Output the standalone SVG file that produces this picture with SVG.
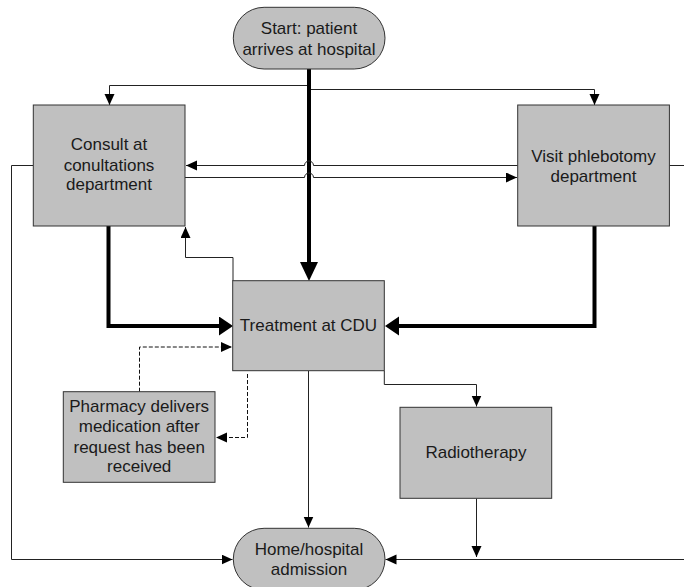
<svg xmlns="http://www.w3.org/2000/svg" width="684" height="587" viewBox="0 0 684 587">
<style>
.box{fill:#c0c0c0;stroke:#333;stroke-width:1}
.t{font-family:"Liberation Sans",Arial,sans-serif;font-size:17px;fill:#1a1a1a;text-anchor:middle}
.thin{fill:none;stroke:#222;stroke-width:1}
.thick{fill:none;stroke:#000;stroke-width:4}
.dash{fill:none;stroke:#111;stroke-width:1;stroke-dasharray:4 2}
</style>
<defs>
<marker id="a" markerUnits="userSpaceOnUse" markerWidth="12" markerHeight="11" refX="11" refY="5" orient="auto"><path d="M0,0 L11,5 L0,10 z" fill="#000"/></marker>
<marker id="av" markerUnits="userSpaceOnUse" markerWidth="20" markerHeight="19" refX="9" refY="9" orient="auto"><path d="M0,0 L19,9 L0,18 z" fill="#000"/></marker>
<marker id="ah" markerUnits="userSpaceOnUse" markerWidth="15" markerHeight="20" refX="7" refY="9.5" orient="auto"><path d="M0,0 L14,9.5 L0,19 z" fill="#000"/></marker>
</defs>
<rect width="684" height="587" fill="#fff"/>
<g id="connectors">
<path class="thin" d="M309,85.5 H109.5 V105" marker-end="url(#a)"/>
<path class="thin" d="M309,89.5 H594.5 V105" marker-end="url(#a)"/>
<path class="thick" d="M309,69 V271" marker-end="url(#av)"/>
<path class="thin" d="M517.7,165.5 H313.5 A4.5,4.5 0 0 0 304.5,165.5 H186" marker-end="url(#a)"/>
<path class="thin" d="M185,177.5 H304.5 A4.5,4.5 0 0 1 313.5,177.5 H517" marker-end="url(#a)"/>
<path class="thick" d="M108.5,226 V326 H226" marker-end="url(#ah)"/>
<path class="thick" d="M594.5,226 V326 H392" marker-end="url(#ah)"/>
<path class="thin" d="M233,281 V257.5 H185.5 V227" marker-end="url(#a)"/>
<path class="dash" d="M139.5,391.7 V347 H232" marker-end="url(#a)"/>
<path class="dash" d="M247.5,374 V437.5 H216" marker-end="url(#a)"/>
<path class="thin" d="M308.5,371 V527.5" marker-end="url(#a)"/>
<path class="thin" d="M384.3,371 V384.5 H476.5 V406.5" marker-end="url(#a)"/>
<path class="thin" d="M476.5,498.5 V557" marker-end="url(#a)"/>
<path class="thin" d="M33,165.5 H11.5 V559.5 H232.5" marker-end="url(#a)"/>
<path class="thin" d="M669.5,165.5 H690 M690,559.5 H385.5" marker-end="url(#a)"/>
</g>
<g id="start">
<rect class="box" x="233.3" y="7.3" width="151.7" height="61.7" rx="30.8"/>
<text class="t" x="309" y="33.5">Start: patient</text>
<text class="t" x="309" y="54.5">arrives at hospital</text>
</g>
<g id="consult">
<rect class="box" x="33.3" y="105" width="151.7" height="121"/>
<text class="t" x="109" y="150">Consult at</text>
<text class="t" x="109" y="170.5">conultations</text>
<text class="t" x="109" y="190">department</text>
</g>
<g id="phlebotomy">
<rect class="box" x="517.7" y="105" width="151.7" height="121"/>
<text class="t" x="593.5" y="161.5">Visit phlebotomy</text>
<text class="t" x="593.5" y="181.5">department</text>
</g>
<g id="treatment">
<rect class="box" x="232.7" y="280.7" width="151.6" height="90"/>
<text class="t" x="308.5" y="331">Treatment at CDU</text>
</g>
<g id="pharmacy">
<rect class="box" x="63.3" y="391.7" width="151.7" height="90.6"/>
<text class="t" x="139.2" y="411.7">Pharmacy delivers</text>
<text class="t" x="139.2" y="431.7">medication after</text>
<text class="t" x="139.2" y="452.5">request has been</text>
<text class="t" x="139.2" y="471.7">received</text>
</g>
<g id="radiotherapy">
<rect class="box" x="400" y="407.3" width="151.7" height="91"/>
<text class="t" x="476" y="458.3">Radiotherapy</text>
</g>
<g id="home">
<rect class="box" x="233.3" y="528.3" width="151.7" height="61.7" rx="30.8"/>
<text class="t" x="309" y="555">Home/hospital</text>
<text class="t" x="309" y="574.5">admission</text>
</g>
</svg>
